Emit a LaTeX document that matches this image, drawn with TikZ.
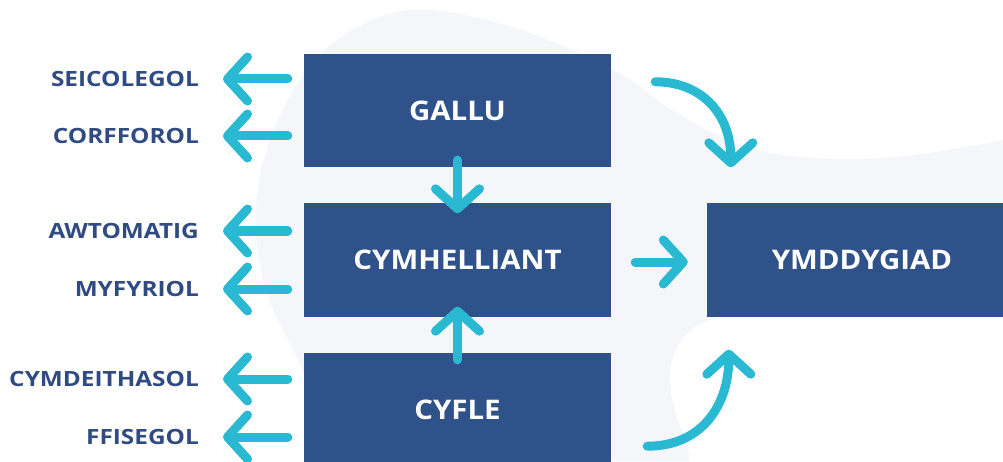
\documentclass[tikz,border=0pt]{standalone}
\usepackage{fontspec}
\setmainfont{Open Sans}
\newfontfamily\lblfont[FakeStretch=1.16]{Open Sans}
\newfontfamily\boxfont[FakeStretch=1.09]{Open Sans}
\usetikzlibrary{arrows.meta}
\definecolor{boxblue}{HTML}{30528A}
\definecolor{txtblue}{HTML}{2F4B82}
\definecolor{arrcyan}{HTML}{29B9D3}
\definecolor{blobgrey}{HTML}{F4F6F9}
\tikzset{
  box/.style={fill=boxblue, minimum width=307pt, minimum height=113pt, inner sep=0pt,
    text=white, font=\boxfont\fontsize{27}{30}\selectfont\bfseries},
  lbl/.style={anchor=east, inner sep=0pt, text=txtblue, font=\lblfont\fontsize{21}{24}\selectfont\bfseries},
  arr/.style={draw=arrcyan, line width=9pt, line cap=round,
    -{Straight Barb[length=20pt, width=44pt, round]}},
}
\begin{document}
\begin{tikzpicture}[x=1pt,y=1pt]
\useasboundingbox (0,0) rectangle (1003,461);
\clip (0,0) rectangle (1003,461);
% background blob
\fill[blobgrey] plot[smooth, tension=0.6] coordinates {(333,0) (301,94) (269,161) (256,228) (262,294) (288,361) (333,418) (410,451) (512,434) (614,391) (672,351) (736,318) (800,304) (896,304) (1003,321)}
  -- (1003,144) -- (720,144) to[out=190,in=90] (670,84) to[out=-90,in=100] (690,0) -- cycle;
% boxes
\node[box] (gallu) at (457.5,350.5) {GALLU};
\node[box] (cym) at (457.5,201) {CYMHELLIANT};
\node[box] (cyfle) at (457.5,51.5) {CYFLE};
\node[box, minimum width=310pt] (ymd) at (862,201) {YMDDYGIAD};
% labels
\node[lbl] (l1) at (199,382) {SEICOLEGOL};
\node[lbl] (l2) at (199,325) {CORFFOROL};
\node[lbl] (l3) at (199,230) {AWTOMATIG};
\node[lbl] (l4) at (199,172) {MYFYRIOL};
\node[lbl] (l5) at (199,82) {CYMDEITHASOL};
\node[lbl] (l6) at (199,24) {FFISEGOL};
% left arrows
\foreach \l/\b in {l1/gallu,l2/gallu,l3/cym,l4/cym,l5/cyfle,l6/cyfle}{
  \draw[arr] ([xshift=-16pt]\b.west |- \l.east) -- ([xshift=24pt]\l.east);
}
% vertical arrows
\draw[arr] ([yshift=7pt]gallu.south) -- ([yshift=-10pt]cym.north);
\draw[arr] ([yshift=-7pt]cyfle.north) -- ([yshift=10pt]cym.south);
% right arrow
\draw[arr] ([xshift=24pt,yshift=-2pt]cym.east) -- ([xshift=-19pt,yshift=-2pt]ymd.west);
% curved arrows
\coordinate (c1) at ([xshift=44pt,yshift=-28pt]gallu.north east);
\coordinate (c2) at ([xshift=36pt,yshift=20pt]cyfle.south east);
\draw[arr] (c1) .. controls +(45,0) and +(0,55) .. ([xshift=24pt,yshift=36pt]ymd.north west);
\draw[arr] (c2) .. controls +(55,0) and +(0,-55) .. ([xshift=22pt,yshift=-33pt]ymd.south west);
\end{tikzpicture}
\end{document}
